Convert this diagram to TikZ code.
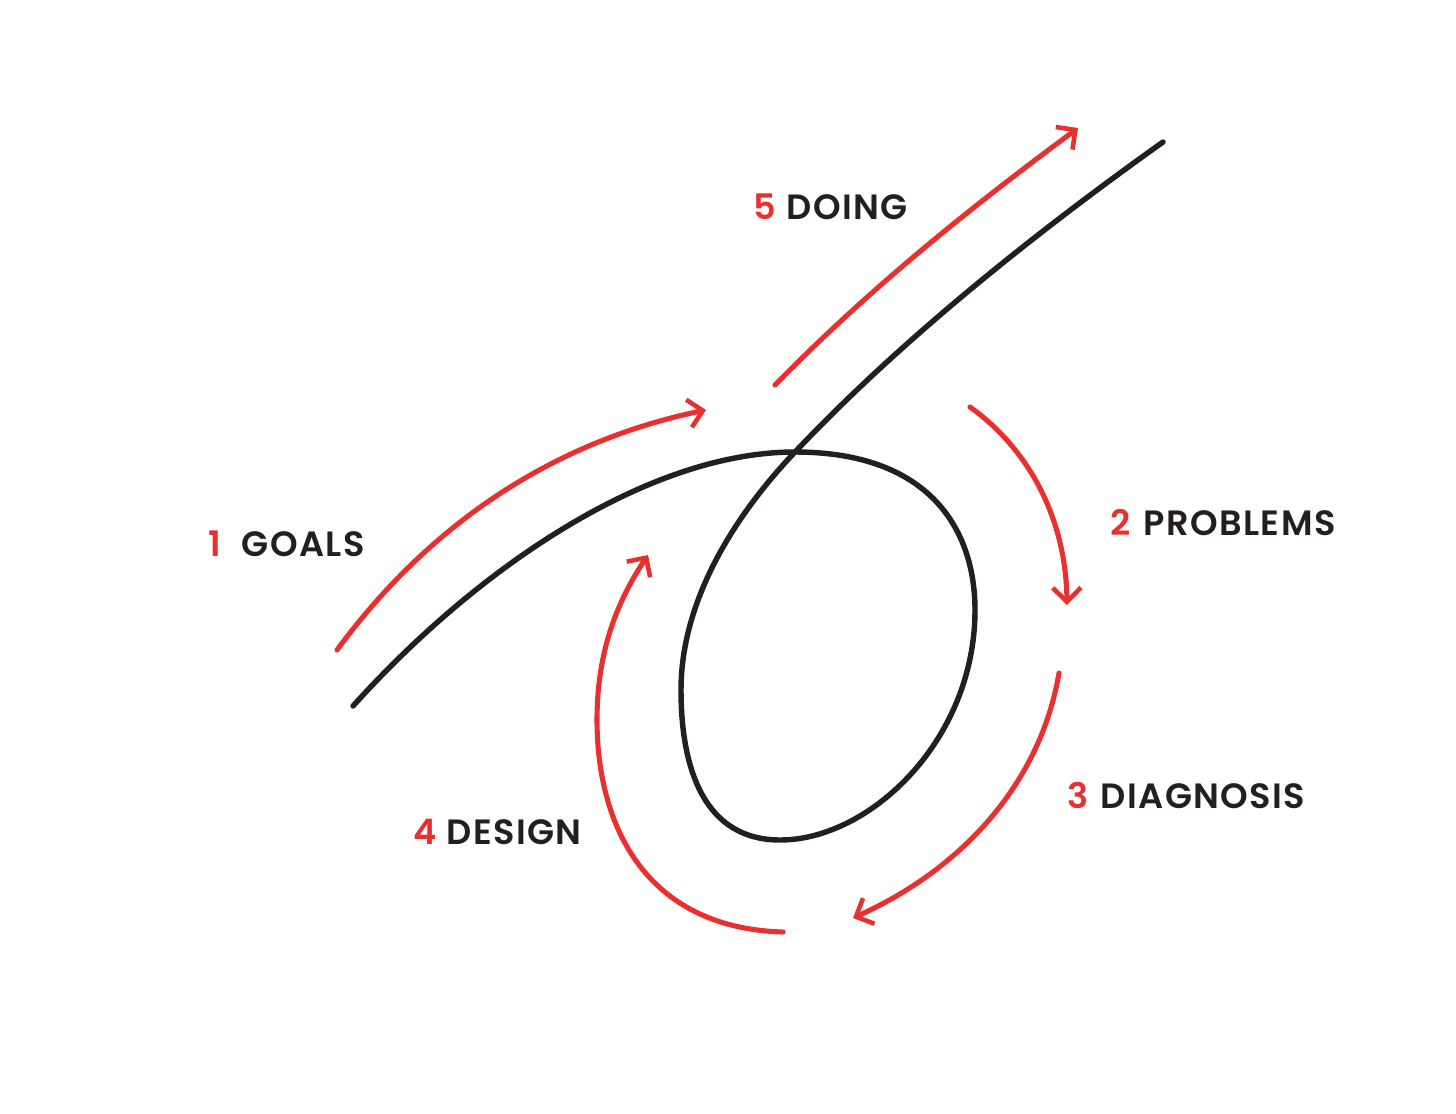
\documentclass[tikz,border=0pt]{standalone}
\usepackage{fontspec}
\setmainfont{Poppins}
\usepackage{xcolor}
\usetikzlibrary{arrows.meta}
\definecolor{stepred}{HTML}{E8302E}
\definecolor{inkblack}{HTML}{231F20}
\newfontfamily\labelfont[LetterSpace=4]{Poppins SemiBold}
\newcommand{\stepnum}[1]{\makebox[19pt][l]{\textcolor{stepred}{#1}}}

\begin{document}
\begin{tikzpicture}[
  x=0.02cm, y=-0.02cm,
  path/.style={draw=inkblack, line width=3.1pt, line cap=round},
  flow/.style={draw=stepred, line width=2.9pt, line cap=round,
               -{Straight Barb[length=8pt, width=16pt, line width=2.6pt]}},
  lbl/.style={anchor=west, inner sep=0pt, font=\labelfont\fontsize{20}{24}\selectfont,
              text=inkblack}
]
  \useasboundingbox (0,0) rectangle (1456,1113);

  % Path through the loop
  \coordinate (start) at (353,706);
  \coordinate (cross) at (795,452);
  \coordinate (right) at (975,610);
  \coordinate (bottom) at (780,840);
  \coordinate (left) at (681,690);
  \coordinate (finish) at (1163,142);
  \draw[path] (start) .. controls (480,565) and (650,452) .. (cross)
    .. controls (930,452) and (975,530) .. (right)
    .. controls (975,740) and (870,840) .. (bottom)
    .. controls (705,840) and (681,770) .. (left)
    .. controls (681,600) and (735,515) .. (cross)
    .. controls (880,362) and (1000,258) .. (finish);

  % Arrow ends
  \coordinate (goalsA) at (337,650);
  \coordinate (goalsB) at (706,410);
  \coordinate (probA) at (970,407);
  \coordinate (probB) at (1067,605);
  \coordinate (diagA) at (1059,673);
  \coordinate (diagB) at (853,918);
  \coordinate (desA) at (783,932);
  \coordinate (desM) at (597,720);
  \coordinate (desB) at (648,555);
  \coordinate (doA) at (775,385);
  \coordinate (doB) at (1078,128);

  % Arrows
  \draw[flow] (goalsA) .. controls (440,510) and (570,438) .. (goalsB);
  \draw[flow] (probA) .. controls (1030,450) and (1066,520) .. (probB);
  \draw[flow] (diagA) .. controls (1040,785) and (960,870) .. (diagB);
  \draw[flow] (desA) .. controls (645,928) and (597,825) .. (desM)
    .. controls (597,650) and (618,600) .. (desB);
  \draw[flow] (doA) .. controls (870,288) and (970,208) .. (doB);

  % Labels
  \node[lbl] (goals) at (208,544) {\stepnum{1}GOALS};
  \node[lbl] (problems) at (1110,523) {\stepnum{2}PROBLEMS};
  \node[lbl] (diagnosis) at (1067,795) {\stepnum{3}DIAGNOSIS};
  \node[lbl] (design) at (413,832) {\stepnum{4}DESIGN};
  \node[lbl] (doing) at (753,207) {\stepnum{5}DOING};
\end{tikzpicture}
\end{document}
